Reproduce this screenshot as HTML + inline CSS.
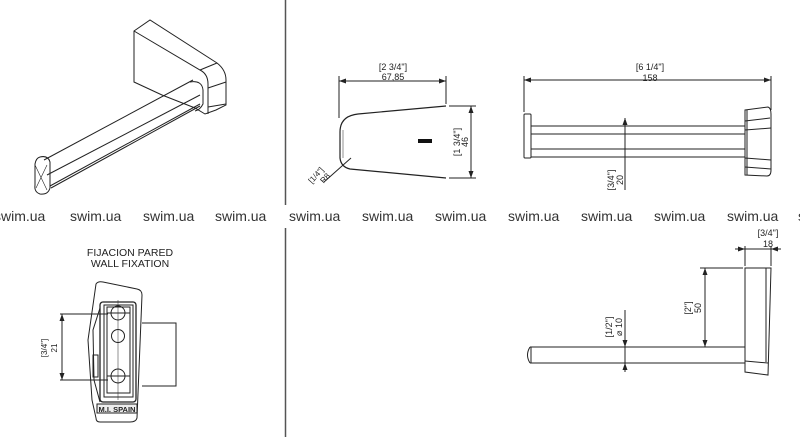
<!DOCTYPE html>
<html><head><meta charset="utf-8"><style>
html,body{margin:0;padding:0;background:#fff}
svg{display:block}
text{font-family:"Liberation Sans",sans-serif;fill:#222}
.wm{font-size:14px;fill:#333}
</style></head><body>
<svg width="800" height="437" viewBox="0 0 800 437" xmlns="http://www.w3.org/2000/svg" stroke="#222" fill="none" stroke-width="1">
<defs>
<marker id="a" markerWidth="8" markerHeight="8" refX="7" refY="4" orient="auto-start-reverse" markerUnits="userSpaceOnUse"><path d="M0,1.5 L7,4 L0,6.5 Z" fill="#222" stroke="none"/></marker>
</defs>
<!-- separators -->
<line x1="285.5" y1="0" x2="285.5" y2="205" stroke="#555" stroke-width="1.5"/>
<line x1="285.5" y1="228" x2="285.5" y2="437" stroke="#555" stroke-width="1.5"/>

<!-- watermark row -->
<g class="wm" stroke="none">
<text x="-6" y="221" class="wm">swim.ua</text><text x="70" y="221" class="wm">swim.ua</text><text x="143" y="221" class="wm">swim.ua</text><text x="215" y="221" class="wm">swim.ua</text><text x="289" y="221" class="wm">swim.ua</text><text x="362" y="221" class="wm">swim.ua</text><text x="435" y="221" class="wm">swim.ua</text><text x="508" y="221" class="wm">swim.ua</text><text x="581" y="221" class="wm">swim.ua</text><text x="654" y="221" class="wm">swim.ua</text><text x="727" y="221" class="wm">swim.ua</text><text x="798" y="221" class="wm">s</text>
</g>

<!-- isometric view -->
<g stroke-width="1">
<path d="M134,31 L150,20 L217,63 Q226,70 226,80 L226,105 L216,110 L205,114 L195,108 L190,106 L162,95 L134,82 Z"/>
<path d="M134,31 L200,70 Q208,74 208,84 L208,114"/>
<path d="M200,70 L217,63"/>
<path d="M208,88 L226,82"/>
<path d="M208,107 L226,104"/>
<path d="M190,82 Q202,80 203,90 L203,104 Q200,110 195,111"/>
<path d="M44,160 L193,80"/>
<path d="M47,175 L200,95"/>
<path d="M50,186 L200,104"/>
<path d="M51,188 L200,106"/>
<path d="M40,157 Q48,155 50,162 L50,188 Q48,195 40,194 Q34,192 35,185 L35,164 Q36,158 40,157 Z"/>
<path d="M35,165 L47,190 M47,165 L36,188" stroke-width="0.6"/>
</g>

<!-- profile view -->
<line x1="339" y1="81" x2="446" y2="81" marker-start="url(#a)" marker-end="url(#a)"/>
<line x1="339" y1="76" x2="339" y2="118"/>
<line x1="446" y1="76" x2="446" y2="104"/>
<text x="393" y="70" font-size="9" text-anchor="middle" stroke="none">[2 3/4"]</text>
<text x="393" y="80" font-size="9" text-anchor="middle" stroke="none">67,85</text>
<path d="M446,106 L358,114 Q340,116 340,132 L340,158 Q341,167 350,169 L446,178" stroke-width="1.2"/>
<path d="M343,130 L343,158" stroke-width="0.5"/>
<rect x="418" y="139" width="14" height="4" fill="#111" stroke="none"/>
<line x1="449" y1="106" x2="476" y2="106"/>
<line x1="449" y1="178" x2="476" y2="178"/>
<line x1="471" y1="106" x2="471" y2="178" marker-start="url(#a)" marker-end="url(#a)"/>
<text transform="translate(460,142) rotate(-90)" font-size="9" text-anchor="middle" stroke="none">[1 3/4"]</text>
<text transform="translate(468,142) rotate(-90)" font-size="9" text-anchor="middle" stroke="none">46</text>
<line x1="324" y1="182" x2="351" y2="158"/>
<text transform="translate(318,177) rotate(-48)" font-size="8" text-anchor="middle" stroke="none">[1/4"]</text>
<text transform="translate(327,180) rotate(-48)" font-size="8" text-anchor="middle" stroke="none">R8</text>

<!-- front view -->
<line x1="524" y1="80" x2="771" y2="80" marker-start="url(#a)" marker-end="url(#a)"/>
<line x1="524" y1="76" x2="524" y2="112"/>
<line x1="771" y1="76" x2="771" y2="110"/>
<text x="650" y="70" font-size="9" text-anchor="middle" stroke="none">[6 1/4"]</text>
<text x="650" y="81" font-size="9" text-anchor="middle" stroke="none">158</text>
<rect x="524" y="114" width="7" height="44" rx="1"/>
<line x1="531" y1="126" x2="745" y2="126"/>
<line x1="531" y1="134" x2="745" y2="134"/>
<line x1="531" y1="149" x2="745" y2="149"/>
<line x1="531" y1="157" x2="745" y2="157"/>
<path d="M745,110 L768,107 Q771,108 771,114 L771,170 Q771,176 767,176 L745,175 Z"/>
<line x1="747" y1="110" x2="747" y2="175"/>
<line x1="745" y1="121" x2="770" y2="118"/>
<line x1="745" y1="130" x2="771" y2="128"/>
<line x1="745" y1="158" x2="771" y2="160"/>
<line x1="745" y1="167" x2="771" y2="169"/>
<line x1="625" y1="118" x2="625" y2="190" marker-start="url(#a)"/>
<text transform="translate(614,180) rotate(-90)" font-size="9" text-anchor="middle" stroke="none">[3/4"]</text>
<text transform="translate(623,180) rotate(-90)" font-size="9" text-anchor="middle" stroke="none">20</text>

<!-- wall fixation -->
<text x="130" y="256" font-size="10.5" text-anchor="middle" stroke="none">FIJACION PARED</text>
<text x="130" y="267" font-size="10.5" text-anchor="middle" stroke="none">WALL FIXATION</text>
<path d="M96,284 Q98,281 103,282 L137,289 Q142,290 142,295 L137,418 Q136,422 130,422 L100,422 Q96,422 96,418 L92,400 L88,340 Z"/>
<rect x="100" y="302" width="36" height="100" rx="3" stroke-width="1.3"/>
<rect x="104" y="305" width="29" height="92"/>
<rect x="107" y="307" width="23" height="86"/>
<circle cx="118" cy="313" r="7"/>
<circle cx="118" cy="336" r="6.5"/>
<circle cx="118" cy="376" r="7"/>
<line x1="107" y1="313" x2="130" y2="313"/>
<line x1="107" y1="376" x2="130" y2="376"/>
<line x1="118" y1="300" x2="118" y2="400" stroke-width="0.5"/>
<path d="M142,323 L176,323 L176,386 L142,386"/>
<path d="M100,308 L93,330 L94,380 L100,402" />
<rect x="93" y="355" width="5" height="22"/>
<path d="M97,404 L137,404 L137,413 L97,413 Z" fill="#eee"/>
<text x="117" y="412" font-size="7.5" font-weight="bold" text-anchor="middle" stroke="none" fill="#111">M.I. SPAIN</text>
<line x1="60" y1="314" x2="108" y2="314"/>
<line x1="60" y1="380" x2="108" y2="380"/>
<line x1="62" y1="314" x2="62" y2="380" marker-start="url(#a)" marker-end="url(#a)"/>
<text transform="translate(47,348) rotate(-90)" font-size="8" text-anchor="middle" stroke="none">[3/4"]</text>
<text transform="translate(57,348) rotate(-90)" font-size="8" text-anchor="middle" stroke="none">21</text>

<!-- side view -->
<text x="768" y="236" font-size="9" text-anchor="middle" stroke="none">[3/4"]</text>
<text x="768" y="247" font-size="9" text-anchor="middle" stroke="none">18</text>
<line x1="735" y1="249" x2="781" y2="249"/>
<line x1="738" y1="249" x2="745" y2="249" marker-end="url(#a)"/>
<line x1="778" y1="249" x2="771" y2="249" marker-end="url(#a)"/>
<line x1="745" y1="246" x2="745" y2="266"/>
<line x1="771" y1="246" x2="771" y2="266"/>
<path d="M745,268 L771,268 L768,375 L745,372 Z"/>
<line x1="766" y1="268" x2="766" y2="362"/>
<line x1="745" y1="361" x2="768" y2="363"/>
<line x1="700" y1="268" x2="743" y2="268"/>
<line x1="705" y1="268" x2="705" y2="347" marker-start="url(#a)" marker-end="url(#a)"/>
<text transform="translate(691,308) rotate(-90)" font-size="9" text-anchor="middle" stroke="none">[2"]</text>
<text transform="translate(701,308) rotate(-90)" font-size="9" text-anchor="middle" stroke="none">50</text>
<path d="M530,347 L745,347 M530,363 L745,363 M530,347 Q525,355 530,363 M531,347 L531,363"/>
<line x1="625" y1="310" x2="625" y2="372"/>
<line x1="625" y1="338" x2="625" y2="347" marker-end="url(#a)"/>
<line x1="625" y1="372" x2="625" y2="363" marker-end="url(#a)"/>
<text transform="translate(612,327) rotate(-90)" font-size="9" text-anchor="middle" stroke="none">[1/2"]</text>
<text transform="translate(622,327) rotate(-90)" font-size="9" text-anchor="middle" stroke="none">⌀ 10</text>
</svg>
</body></html>
